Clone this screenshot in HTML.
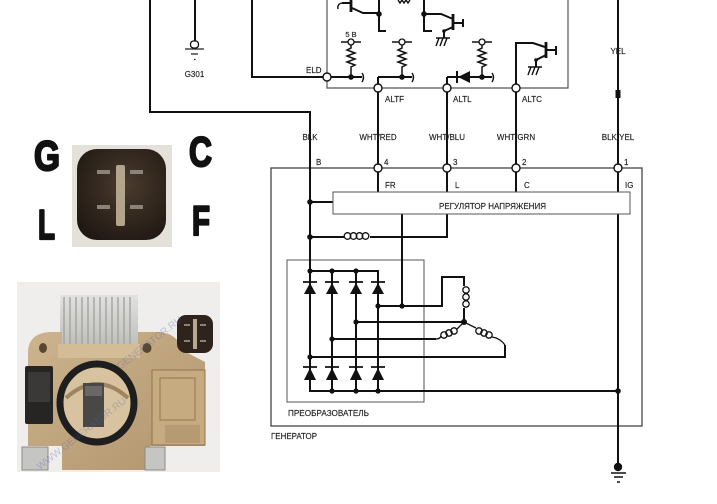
<!DOCTYPE html>
<html><head><meta charset="utf-8">
<style>
html,body{margin:0;padding:0;background:#fff;}
svg{display:block;}
text{font-family:"Liberation Sans",sans-serif;}
</style></head><body>
<svg width="717" height="504" viewBox="0 0 717 504" xmlns="http://www.w3.org/2000/svg">
<defs>
<radialGradient id="cg" cx="0.55" cy="0.4" r="0.7">
<stop offset="0" stop-color="#4a3b2d"/><stop offset="1" stop-color="#1e1712"/>
</radialGradient>
<linearGradient id="hs" x1="0" y1="0" x2="0" y2="1">
<stop offset="0" stop-color="#e2e2e0"/><stop offset="1" stop-color="#b9b9b6"/>
</linearGradient>
<linearGradient id="bd" x1="0" y1="0" x2="1" y2="1">
<stop offset="0" stop-color="#cdb48e"/><stop offset="1" stop-color="#b0946c"/>
</linearGradient>
</defs>

<!-- ECM box -->
<path d="M327,0V88H568V0" fill="none" stroke="#555" stroke-width="1.2"/>

<!-- boxes -->
<rect x="271" y="168" width="371" height="258" fill="none" stroke="#444" stroke-width="1.3"/>
<rect x="287" y="260" width="137" height="142" fill="none" stroke="#555" stroke-width="1"/>

<!-- wires -->
<g fill="none" stroke="#111" stroke-width="2">
<path d="M150,0V112H310V391H618"/>
<path d="M252,0V77H327"/>
<path d="M195,0V41"/>
<path d="M618,0V465"/>
<path d="M378,77V192"/>
<path d="M378,77H412"/>
<path d="M447,77V192"/>
<path d="M447,77H492"/>
<path d="M516,192V43H533L545,47"/>
<path d="M327,77H362"/>
<path d="M310,202H333"/>
<path d="M447,214V237H370"/>
<path d="M344,237H310"/>
<path d="M402,214V306"/>
<path d="M378,306H442V277H464V286"/>
<path d="M464,308V322"/>
<path d="M310,271H378V391"/>
<path d="M332,271V391"/>
<path d="M356,271V391"/>
<path d="M356,322H464"/>
<path d="M332,339H436"/>
<path d="M310,357H505V345"/>
<!-- ECM internals -->
<path d="M379,0V31H386"/>
<path d="M424,0V31H432"/>
<path d="M352,8L363,13H379"/>
<path d="M424,14H441L453,19"/>
<path d="M453,23H463M463,19V27"/>
<path d="M453,27L444,31V38"/>
<path d="M546,50H556M556,46V55"/>
<path d="M546,55L536,60V67"/>
<path d="M351,3H342"/>
</g>
<g fill="none" stroke="#111" stroke-width="1.4">
<path d="M342,3Q337,4 338,9"/>
<path d="M398,0L400,3L402,0L404,3L406,0L408,3L410,0"/>
<!-- ground hatches -->
<path d="M436,38H450M439,38L436,46M443,38L440,46M447,38L444,46"/>
<path d="M528,67H542M531,67L528,75M535,67L532,75M539,67L536,75"/>
<!-- brackets -->
<path d="M362,73Q365,77 362,82"/>
<path d="M412,73Q415,77 412,82"/>
<path d="M492,73Q495,77 492,82"/>
</g>
<!-- transistor bars -->
<g stroke="#111" stroke-width="2.8">
<path d="M351,0V12"/>
<path d="M453,14V30"/>
<path d="M546,42V58"/>
</g>

<!-- resistors -->
<g fill="none" stroke="#111" stroke-width="1.5">
<path d="M341,42H348M354,42H361M351,45V48L347,50L355,53L347,56L355,59L347,62L355,65L351,67V77"/>
<path d="M392,42H399M405,42H412M402,45V48L398,50L406,53L398,56L406,59L398,62L406,65L402,67V77"/>
<path d="M472,42H479M485,42H492M482,45V48L478,50L486,53L478,56L486,59L478,62L486,65L482,67V77"/>
</g>
<g fill="#fff" stroke="#111" stroke-width="1.3">
<circle cx="351" cy="42" r="3"/>
<circle cx="402" cy="42" r="3"/>
<circle cx="482" cy="42" r="3"/>
</g>
<!-- ALTL diode -->
<path d="M458,77L470,71V83Z" fill="#111"/>
<path d="M457,71V83" stroke="#111" stroke-width="2"/>

<!-- coils -->
<g fill="none" stroke="#111" stroke-width="1.3">
<circle cx="347.5" cy="236" r="3.3"/>
<circle cx="353.5" cy="236" r="3.3"/>
<circle cx="359.5" cy="236" r="3.3"/>
<circle cx="365.5" cy="236" r="3.3"/>
<circle cx="466" cy="290" r="3.2"/>
<circle cx="466" cy="297" r="3.2"/>
<circle cx="466" cy="304" r="3.2"/>
<path d="M436,339Q440,339 441,336"/>
<circle cx="444" cy="335" r="3.2"/>
<circle cx="449" cy="333" r="3.2"/>
<circle cx="454" cy="331" r="3.2"/>
<path d="M457,329L464,322L476,328"/>
<circle cx="479" cy="331" r="3.2"/>
<circle cx="484" cy="333" r="3.2"/>
<circle cx="489" cy="335" r="3.2"/>
<path d="M492,337Q500,338 505,345"/>
</g>

<!-- rectifier diodes -->
<g fill="#111">
<path d="M310,283L304,294H316Z"/><path d="M332,283L326,294H338Z"/>
<path d="M356,283L350,294H362Z"/><path d="M378,283L372,294H384Z"/>
<path d="M310,368L304,380H316Z"/><path d="M332,368L326,380H338Z"/>
<path d="M356,368L350,380H362Z"/><path d="M378,368L372,380H384Z"/>
</g>
<g stroke="#111" stroke-width="1.8">
<path d="M303,282H317M325,282H339M349,282H363M371,282H385"/>
<path d="M303,367H317M325,367H339M349,367H363M371,367H385"/>
</g>

<!-- regulator box -->
<rect x="333" y="192" width="297" height="22" fill="#fff" stroke="#555" stroke-width="1"/>

<!-- dots -->
<g fill="#111">
<circle cx="310" cy="202" r="2.8"/><circle cx="310" cy="237" r="2.8"/>
<circle cx="310" cy="271" r="2.6"/><circle cx="332" cy="271" r="2.6"/><circle cx="356" cy="271" r="2.6"/>
<circle cx="378" cy="306" r="2.6"/><circle cx="402" cy="306" r="2.6"/>
<circle cx="356" cy="322" r="2.6"/><circle cx="332" cy="339" r="2.6"/><circle cx="310" cy="357" r="2.6"/>
<circle cx="332" cy="391" r="2.6"/><circle cx="356" cy="391" r="2.6"/><circle cx="378" cy="391" r="2.6"/>
<circle cx="618" cy="391" r="2.8"/><circle cx="464" cy="322" r="3"/>
<circle cx="351" cy="77" r="2.8"/><circle cx="402" cy="77" r="2.8"/><circle cx="482" cy="77" r="2.8"/>
<circle cx="379" cy="14" r="2.8"/><circle cx="424" cy="14" r="2.8"/>
<circle cx="444" cy="31" r="1.8"/><circle cx="536" cy="60" r="1.8"/>
<rect x="615.5" y="90" width="5" height="8"/>
<circle cx="618" cy="467" r="4.2"/>
</g>
<!-- bottom ground -->
<g stroke="#111" stroke-width="1.4">
<path d="M611,473H626M614,477H623M617,482H620"/>
</g>
<!-- G301 ground -->
<rect x="190.5" y="41" width="8" height="7" rx="3" fill="#fff" stroke="#111" stroke-width="1.3"/>
<g stroke="#222" stroke-width="1.2">
<path d="M185,49H204M191,54H198M194,59.5H195.5"/>
</g>

<!-- open junctions -->
<g fill="#fff" stroke="#111" stroke-width="1.4">
<circle cx="327" cy="77" r="4"/>
<circle cx="378" cy="88" r="4"/><circle cx="447" cy="88" r="4"/><circle cx="516" cy="88" r="4"/>
<circle cx="378" cy="168" r="4"/><circle cx="447" cy="168" r="4"/><circle cx="516" cy="168" r="4"/><circle cx="618" cy="168" r="4"/>
</g>

<!-- labels -->
<g font-size="8" fill="#222" stroke="#222" stroke-width="0.15">
<text x="194.5" y="77" text-anchor="middle">G301</text>
<text x="306" y="73">ELD</text>
<text x="351" y="37" text-anchor="middle" font-size="7.5">5 B</text>
<text x="385" y="102">ALTF</text>
<text x="453" y="102">ALTL</text>
<text x="522" y="102">ALTC</text>
<text x="618" y="54" text-anchor="middle">YEL</text>
<text x="310" y="140" text-anchor="middle">BLK</text>
<text x="378" y="140" text-anchor="middle">WHT/RED</text>
<text x="447" y="140" text-anchor="middle">WHT/BLU</text>
<text x="516" y="140" text-anchor="middle">WHT/GRN</text>
<text x="618" y="140" text-anchor="middle">BLK/YEL</text>
<text x="316" y="165">B</text>
<text x="384" y="165">4</text>
<text x="453" y="165">3</text>
<text x="522" y="165">2</text>
<text x="624" y="165">1</text>
<text x="385" y="188">FR</text>
<text x="455" y="188">L</text>
<text x="524" y="188">C</text>
<text x="625" y="188">IG</text>
<text x="439" y="209" textLength="107" lengthAdjust="spacingAndGlyphs">РЕГУЛЯТОР НАПРЯЖЕНИЯ</text>
<text x="288" y="416" textLength="81" lengthAdjust="spacingAndGlyphs">ПРЕОБРАЗОВАТЕЛЬ</text>
<text x="271" y="439" textLength="46" lengthAdjust="spacingAndGlyphs">ГЕНЕРАТОР</text>
</g>

<!-- connector photo -->
<rect x="72" y="145" width="100" height="102" fill="#e4e0da"/>
<rect x="77" y="149" width="89" height="91" rx="20" fill="url(#cg)"/>
<rect x="116" y="165" width="9" height="61" rx="2" fill="#b3a48c"/>
<g fill="#8b8279">
<rect x="97" y="170" width="13" height="4"/><rect x="130" y="170" width="13" height="4"/>
<rect x="97" y="205" width="13" height="4"/><rect x="130" y="205" width="13" height="4"/>
</g>

<!-- big letters -->
<g font-weight="bold" font-size="42" fill="#111" stroke="#111" stroke-width="2.2" stroke-linejoin="round">
<text x="34" y="170" textLength="26" lengthAdjust="spacingAndGlyphs">G</text>
<text x="189" y="166" textLength="23" lengthAdjust="spacingAndGlyphs">C</text>
<text x="38" y="239" textLength="17" lengthAdjust="spacingAndGlyphs">L</text>
<text x="192" y="235" textLength="18" lengthAdjust="spacingAndGlyphs">F</text>
</g>

<!-- regulator photo -->
<rect x="17" y="282" width="203" height="190" fill="#efeeec"/>
<rect x="60" y="295" width="78" height="58" fill="url(#hs)"/>
<g stroke="#a3a3a0" stroke-width="1.4">
<path d="M64,297V350M70,297V350M76,297V350M82,297V350M88,297V350M94,297V350M100,297V350M106,297V350M112,297V350M118,297V350M124,297V350M130,297V350"/>
</g>
<path d="M28,350Q30,333 50,332L62,332V345H138V332L160,332Q178,334 182,350L205,362V446H150V470H62V446H28Z" fill="url(#bd)"/>
<rect x="58" y="344" width="82" height="14" fill="#d4bc96"/>
<ellipse cx="43" cy="348" rx="4" ry="5" fill="#5a4630"/>
<ellipse cx="147" cy="348" rx="4.5" ry="5" fill="#5a4630"/>
<rect x="25" y="366" width="28" height="58" rx="2" fill="#262524"/>
<rect x="28" y="372" width="22" height="30" fill="#3a3938"/>
<ellipse cx="97" cy="403" rx="37" ry="39" fill="#d8c3a0" stroke="#1e1e1e" stroke-width="7"/>
<path d="M66,398Q97,370 128,398" fill="none" stroke="#9e8460" stroke-width="4"/>
<rect x="83" y="383" width="21" height="44" fill="#4a4846"/>
<rect x="85" y="386" width="17" height="10" fill="#6a6866"/>
<rect x="152" y="370" width="53" height="75" fill="#c6aa80" stroke="#8f7550" stroke-width="1"/>
<path d="M160,378H195V420H160Z" fill="none" stroke="#9c815a" stroke-width="1.2"/>
<rect x="165" y="425" width="35" height="18" fill="#b59a72"/>
<rect x="22" y="447" width="26" height="23" fill="#c5c5c3" stroke="#8c8c8a" stroke-width="1"/>
<rect x="145" y="447" width="20" height="23" fill="#c5c5c3" stroke="#8c8c8a" stroke-width="1"/>
<rect x="177" y="315" width="36" height="38" rx="9" fill="#2e241b"/>
<rect x="193" y="319" width="4" height="30" fill="#b8a890"/>
<g fill="#8b8279">
<rect x="184" y="324" width="6" height="2"/><rect x="200" y="324" width="6" height="2"/>
<rect x="184" y="340" width="6" height="2"/><rect x="200" y="340" width="6" height="2"/>
</g>
<text x="40" y="470" font-size="10" fill="#4a5aa8" opacity="0.3" transform="rotate(-38 40 470)">WWW.GENERATOR.RU</text>
<text x="120" y="370" font-size="10" fill="#4a5aa8" opacity="0.3" transform="rotate(-38 120 370)">GENERATOR.RU</text>
</svg>
</body></html>
